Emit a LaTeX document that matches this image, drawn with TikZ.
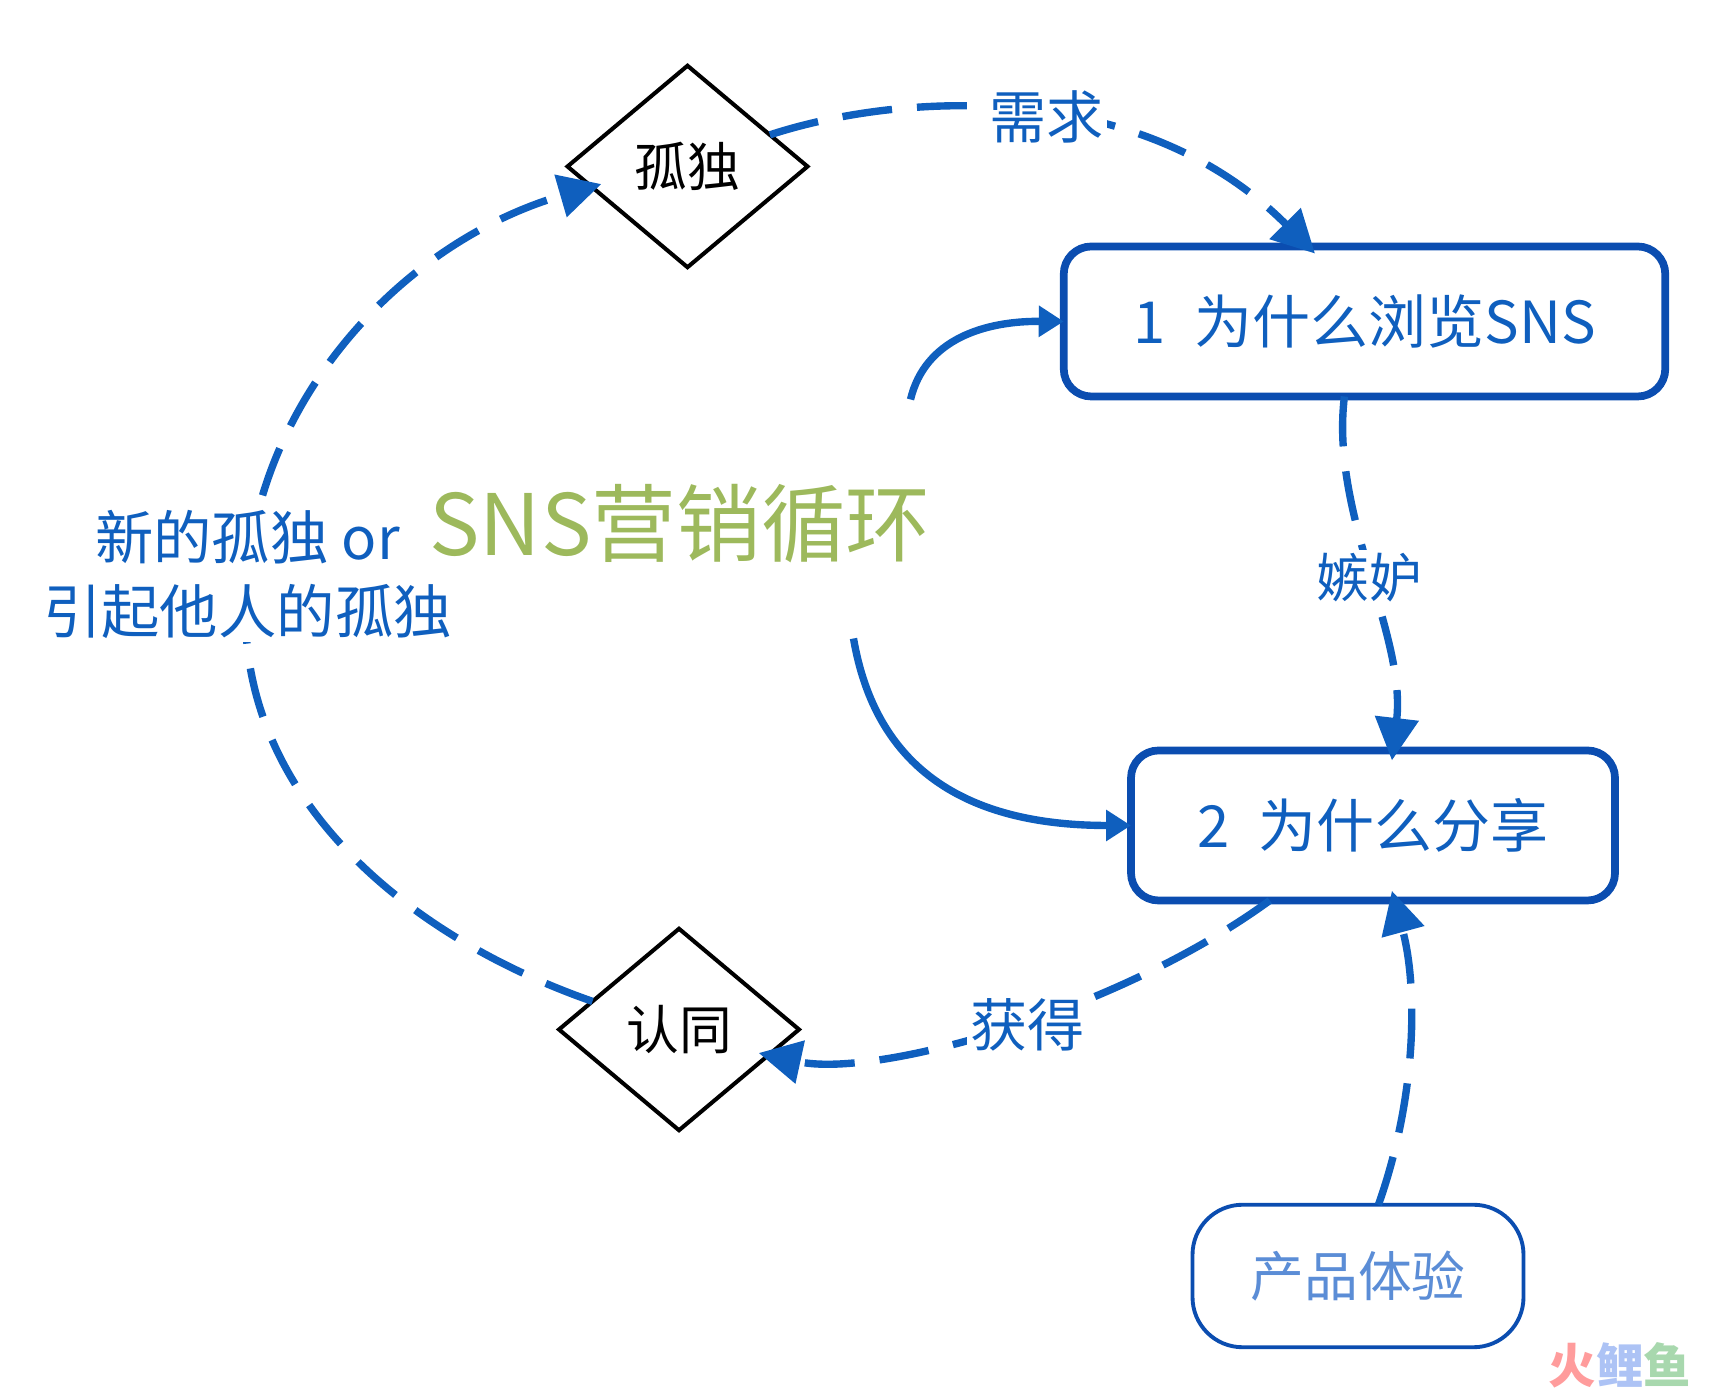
\documentclass[tikz,border=0pt]{standalone}
\usepackage{fontspec}
\setmainfont{Noto Sans CJK SC}
\usetikzlibrary{shapes.geometric,arrows.meta}

\definecolor{linkblue}{HTML}{0F5FBE}
\definecolor{edgeblue}{HTML}{0B4DB0}
\definecolor{softblue}{HTML}{5B8DD6}
\definecolor{snsgreen}{HTML}{9DB95C}

\begin{document}
\begin{tikzpicture}[
    mainbox/.style={draw=edgeblue, line width=4.4pt, rounded corners=0.55cm, minimum height=3.0cm, outer sep=0pt, text=linkblue, font=\fontsize{33}{40}\selectfont},
    softbox/.style={draw=edgeblue, line width=2.2pt, rounded corners=1cm, minimum width=6.62cm, minimum height=2.85cm, outer sep=0pt, text=softblue, font=\fontsize{30.6}{37}\selectfont},
    choice/.style={diamond, draw=black, line width=2.3pt, inner sep=0pt, minimum width=4.8cm, minimum height=4.03cm, outer sep=0pt, font=\fontsize{30}{36}\selectfont},
    link/.style={draw=linkblue, line width=4.2pt, dash pattern=on 1cm off 0.5cm, -{Triangle[length=0.85cm,width=0.85cm]}, shorten >=-0.2cm},
    feed/.style={draw=linkblue, line width=4.2pt, -{Triangle[length=0.5cm,width=0.6cm]}},
    tag/.style={fill=white, inner sep=2pt, text=linkblue, align=center, font=\fontsize{32.5}{43}\selectfont}
]
    \useasboundingbox (0,0) rectangle (34.32,27.78);

    % --- Boxes and diamonds ---
    \node[choice] (gudu) at (13.75, 24.45) {孤独};
    \node[choice] (rentong) at (13.58, 7.19) {认同};
    \node[mainbox, minimum width=12.03cm] (why1) at (27.29, 21.35) {\raisebox{-0.04cm}{1\hspace{0.5em}为什么浏览SNS}};
    \node[mainbox, minimum width=9.68cm] (why2) at (27.46, 11.27) {\raisebox{-0.06cm}{2\hspace{0.5em}为什么分享}};
    \node[softbox] (tiyan) at (27.16, 2.26) {产品体验};

    % --- Free ends of the two solid curves ---
    \coordinate (snsup) at (18.21, 19.79);
    \coordinate (snsdown) at (17.07, 15.01);
    \coordinate (leftmid) at (4.91, 15.52);

    % --- Dashed loop ---
    \draw[link] (gudu.21) .. controls (17.95, 25.92) and (22.77, 26.25) .. (why1.127);
    \draw[link] (why1.255) .. controls (26.6, 17.49) and (28.13, 15.08) .. (why2.75);
    \draw[link] (why2.216) .. controls (22.33, 7.53) and (17.51, 6.21) .. (rentong.344);
    \draw[link] (rentong.162) .. controls (8.1, 9.06) and (4.91, 11.8) .. (leftmid)
        .. controls (4.88, 19.5) and (7.9, 22.9) .. (gudu.192);
    \draw[link] (tiyan.74) .. controls (28.35, 5.89) and (28.35, 8.08) .. (why2.286);

    % --- Solid curves ---
    \draw[feed] (snsup) .. controls (18.5, 21.0) and (19.7, 21.36) .. (why1.west);
    \draw[feed] (snsdown) .. controls (17.51, 12.45) and (19.26, 11.27) .. (why2.west);

    % --- Labels ---
    \node[tag] (xuqiu) at (20.93, 25.45) {需求};
    \node[tag, font=\fontsize{30}{36}\selectfont] (jidu) at (27.38, 16.23) {嫉妒};
    \node[tag] (huode) at (20.55, 7.28) {获得};
    \node[tag, font=\fontsize{33.2}{42.4}\selectfont] (xinde) at (4.95, 16.29) {新的孤独 or\\引起他人的孤独};
    \node[text=snsgreen, font=\fontsize{48.2}{57}\selectfont] (sns) at (13.6, 17.3) {SNS营销循环};

    % --- Corner mark ---
    \node[font=\fontsize{27}{32}\selectfont\bfseries, inner sep=0pt] (mark) at (32.4, 0.48)
        {\textcolor[HTML]{FF9C9C}{火}\textcolor[HTML]{ADC3F5}{鲤}\textcolor[HTML]{A8D8AE}{鱼}};

\end{tikzpicture}
\end{document}
